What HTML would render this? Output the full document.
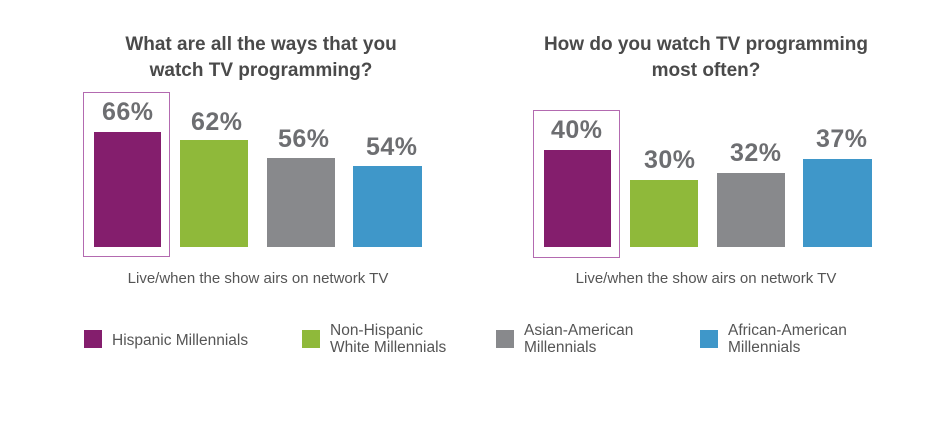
<!DOCTYPE html>
<html><head><style>
body{margin:0;width:938px;height:446px;background:#fff;overflow:hidden;font-family:"Liberation Sans",sans-serif;position:relative}
.a{position:absolute}
.t{position:absolute;text-align:center;color:#4a4a4a;font-size:19px;line-height:26px;font-weight:bold;width:400px}
.l{position:absolute;color:#6d6e71;font-size:25px;white-space:nowrap;letter-spacing:0.5px;font-weight:bold}
.s{position:absolute;color:#555;font-size:15px;text-align:center;width:400px}
.lg{position:absolute;color:#555;font-size:15.5px;line-height:17px}
.sq{position:absolute;width:18px;height:18px}
</style></head><body>
<div class="t" style="left:61px;top:32px">What are all the ways that you<br>watch TV programming?</div>
<div class="t" style="left:506px;top:32px">How do you watch TV programming<br>most often?</div>

<div class="a" style="left:83px;top:92px;width:85px;height:163px;border:1.5px solid #b36ab0"></div>
<div class="a" style="left:94px;top:132px;width:67px;height:115px;background:#841e6d"></div>
<div class="a" style="left:180px;top:140px;width:68px;height:107px;background:#8fb93a"></div>
<div class="a" style="left:267px;top:158px;width:68px;height:89px;background:#88898c"></div>
<div class="a" style="left:353px;top:166px;width:69px;height:81px;background:#3f97c9"></div>
<div class="l" style="left:102px;top:98px">66%</div>
<div class="l" style="left:191px;top:108px">62%</div>
<div class="l" style="left:278px;top:125px">56%</div>
<div class="l" style="left:366px;top:133px">54%</div>
<div class="s" style="left:58px;top:270px">Live/when the show airs on network TV</div>

<div class="a" style="left:533px;top:110px;width:85px;height:146px;border:1.5px solid #b36ab0"></div>
<div class="a" style="left:544px;top:150px;width:67px;height:97px;background:#841e6d"></div>
<div class="a" style="left:630px;top:180px;width:68px;height:67px;background:#8fb93a"></div>
<div class="a" style="left:717px;top:173px;width:68px;height:74px;background:#88898c"></div>
<div class="a" style="left:803px;top:159px;width:69px;height:88px;background:#3f97c9"></div>
<div class="l" style="left:551px;top:116px">40%</div>
<div class="l" style="left:644px;top:146px">30%</div>
<div class="l" style="left:730px;top:139px">32%</div>
<div class="l" style="left:816px;top:125px">37%</div>
<div class="s" style="left:506px;top:270px">Live/when the show airs on network TV</div>

<div class="sq" style="left:84px;top:330px;background:#841e6d"></div>
<div class="lg" style="left:112px;top:332px">Hispanic Millennials</div>
<div class="sq" style="left:302px;top:330px;background:#8fb93a"></div>
<div class="lg" style="left:330px;top:322px">Non-Hispanic<br>White Millennials</div>
<div class="sq" style="left:496px;top:330px;background:#88898c"></div>
<div class="lg" style="left:524px;top:322px">Asian-American<br>Millennials</div>
<div class="sq" style="left:700px;top:330px;background:#3f97c9"></div>
<div class="lg" style="left:728px;top:322px">African-American<br>Millennials</div>
</body></html>
